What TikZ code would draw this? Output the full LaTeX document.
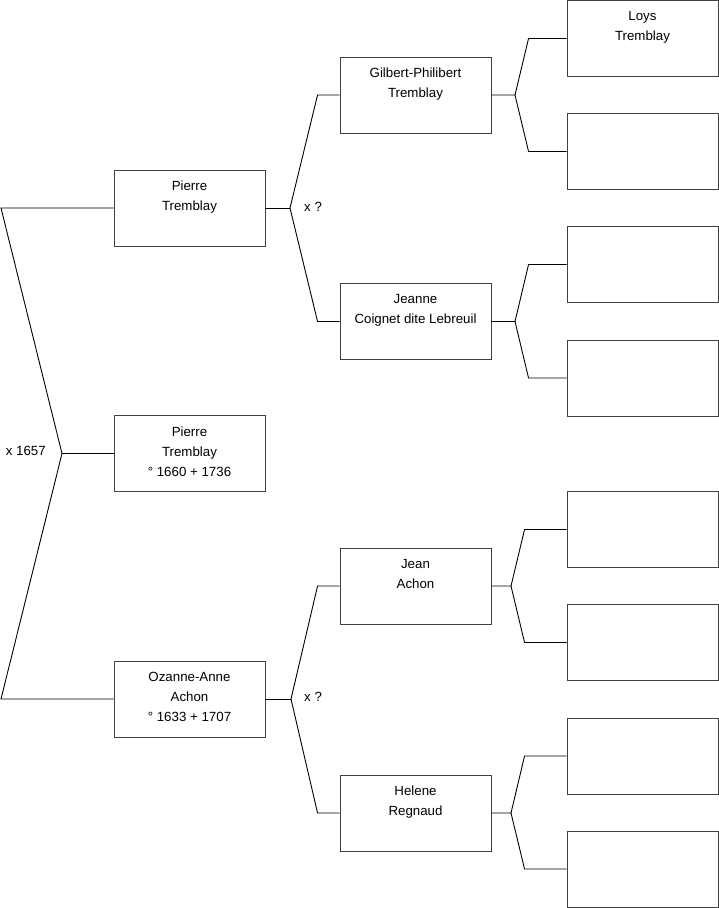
\documentclass[tikz,border=0pt]{standalone}
\usepackage{fontspec}
\setmainfont{Liberation Sans}
\begin{document}
\begin{tikzpicture}[x=1pt,y=-1pt,
  box/.style={draw=black!75,line width=0.9pt,rectangle,minimum width=151pt,minimum height=76pt,inner sep=0pt},
  txt/.style={anchor=north,inner sep=0pt,align=center,font=\fontsize{13.3}{20}\selectfont},
  lbl/.style={inner sep=0pt,font=\fontsize{13.3}{15}\selectfont},
  conn/.style={draw=black,line width=0.9pt}]
\useasboundingbox (0,0) rectangle (719,908);
% generation 1
\node[box] (father) at (189.5,208) {};
\node[box] (child) at (189.5,453.5) {};
\node[box] (mother) at (189.5,699) {};
% generation 2
\node[box] (gp) at (415.5,95) {};
\node[box] (jc) at (415.5,321.5) {};
\node[box] (ja) at (415.5,586) {};
\node[box] (hr) at (415.5,813) {};
% generation 3
\node[box] (r1) at (642.5,38.5) {};
\node[box] (r2) at (642.5,151.5) {};
\node[box] (r3) at (642.5,264.5) {};
\node[box] (r4) at (642.5,378) {};
\node[box] (r5) at (642.5,529.5) {};
\node[box] (r6) at (642.5,642.5) {};
\node[box] (r7) at (642.5,756) {};
\node[box] (r8) at (642.5,869) {};
% texts
\node[txt] (t1) at ([yshift=-11.5pt]father.north) {Pierre\\Tremblay};
\node[txt] (t2) at ([yshift=-11.5pt]child.north) {Pierre\\Tremblay\\° 1660 + 1736};
\node[txt] (t3) at ([yshift=-11.5pt]mother.north) {Ozanne-Anne\\Achon\\° 1633 + 1707};
\node[txt] (t4) at ([yshift=-11.5pt]gp.north) {Gilbert-Philibert\\Tremblay};
\node[txt] (t5) at ([yshift=-11.5pt]jc.north) {Jeanne\\Coignet dite Lebreuil};
\node[txt] (t6) at ([yshift=-11.5pt]ja.north) {Jean\\Achon};
\node[txt] (t7) at ([yshift=-11.5pt]hr.north) {Helene\\Regnaud};
\node[txt] (t8) at ([yshift=-11.5pt]r1.north) {Loys\\Tremblay};
% junction coordinates
\coordinate (jL) at (62,453.5);
\coordinate (ltop) at (1,208);
\coordinate (lbot) at (1,699);
\coordinate (jF) at (290,208);
\coordinate (jM) at (291,699);
\coordinate (jG) at (515,95);
\coordinate (jJ) at (515,321.5);
\coordinate (jA) at (511,586);
\coordinate (jH) at (511,813);
% left bracket
\draw[conn] (father.west) -- (ltop) -- (jL) -- (lbot) -- (mother.west);
\draw[conn] (jL) -- (child.west);
\node[lbl,anchor=east] (m1) at (46,451) {x 1657};
% father's parents
\draw[conn] (father.east) -- (jF);
\draw[conn] (jF) -- ([xshift=-22pt]gp.west) -- (gp.west);
\draw[conn] (jF) -- ([xshift=-22pt]jc.west) -- (jc.west);
\node[lbl,anchor=west] (m2) at (304,207) {x ?};
% mother's parents
\draw[conn] (mother.east) -- (jM);
\draw[conn] (jM) -- ([xshift=-22pt]ja.west) -- (ja.west);
\draw[conn] (jM) -- ([xshift=-22pt]hr.west) -- (hr.west);
\node[lbl,anchor=west] (m3) at (304,697) {x ?};
% generation 3 links
\draw[conn] (gp.east) -- (jG) -- ([xshift=-38pt]r1.west) -- (r1.west);
\draw[conn] (jG) -- ([xshift=-38pt]r2.west) -- (r2.west);
\draw[conn] (jc.east) -- (jJ) -- ([xshift=-38pt]r3.west) -- (r3.west);
\draw[conn] (jJ) -- ([xshift=-38pt]r4.west) -- (r4.west);
\draw[conn] (ja.east) -- (jA) -- ([xshift=-42pt]r5.west) -- (r5.west);
\draw[conn] (jA) -- ([xshift=-42pt]r6.west) -- (r6.west);
\draw[conn] (hr.east) -- (jH) -- ([xshift=-42pt]r7.west) -- (r7.west);
\draw[conn] (jH) -- ([xshift=-42pt]r8.west) -- (r8.west);
\end{tikzpicture}
\end{document}
